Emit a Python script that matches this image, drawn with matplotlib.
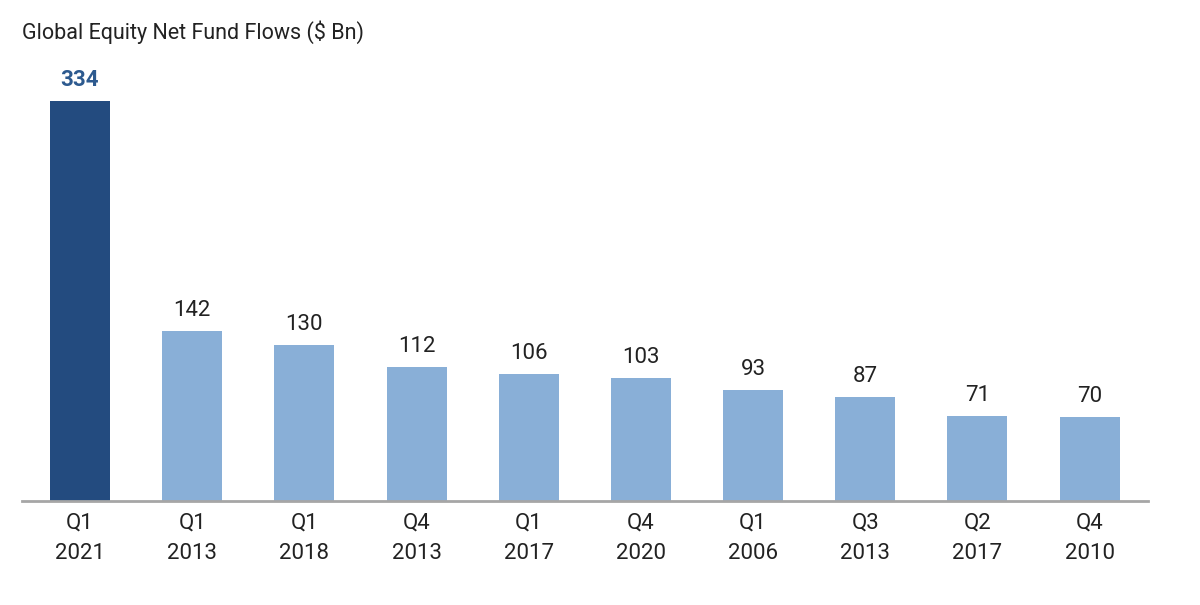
#Import libraries
import matplotlib.pyplot as plt
from matplotlib import font_manager

#Data
quarters = ["Q1", "Q1", "Q1", "Q4", "Q1", "Q4", "Q1", "Q3", "Q2", "Q4"]
years = ["2021", "2013", "2018", "2013", "2017", "2020", "2006", "2013", "2017", "2010"]
flows = [334, 142, 130, 112, 106, 103, 93, 87, 71, 70]

#Pick a narrow font if one is there
names = {f.name for f in font_manager.fontManager.ttflist}
fam = ["Liberation Sans Narrow", "Roboto", "DejaVu Sans"]
fam = [f for f in fam if f in names] or ["DejaVu Sans"]
plt.rcParams['font.family'] = fam

dark = "#234b7f"
light = "#89afd7"
colors = [dark] + [light] * (len(flows) - 1)

fig = plt.figure(figsize=(12, 6.05), dpi=100)
ax = fig.add_axes([22 / 1200, 104 / 605, 1126 / 1200, 441 / 605])

x = range(len(flows))
ax.bar(x, flows, width=0.535, color=colors, zorder=2)

#Value labels on top of bars
for i, v in enumerate(flows):
    if i == 0:
        ax.annotate(str(v), (i, v), xytext=(0, 7), textcoords="offset points",
                    ha="center", va="bottom", fontsize=16, fontweight="bold", color="#2d5a8f")
    else:
        ax.annotate(str(v), (i, v), xytext=(0, 7), textcoords="offset points",
                    ha="center", va="bottom", fontsize=16, color="#222222")

ax.set_xlim(-0.517, 9.52)
ax.set_ylim(0, 368)
ax.set_xticks(list(x))
ax.set_xticklabels([q + "\n" + y for q, y in zip(quarters, years)], fontsize=16,
                   color="#222222", linespacing=1.6)
ax.tick_params(axis="x", length=0, pad=8)
ax.set_yticks([])
for s in ["top", "right", "left"]:
    ax.spines[s].set_visible(False)
ax.spines["bottom"].set_color("#a6a6a6")
ax.spines["bottom"].set_linewidth(2)

fig.text(22 / 1200, 1 - 32 / 605, "Global Equity Net Fund Flows ($ Bn)", fontsize=15.5,
         color="#222222", ha="left", va="center")

fig.savefig("out.png", dpi=100)
